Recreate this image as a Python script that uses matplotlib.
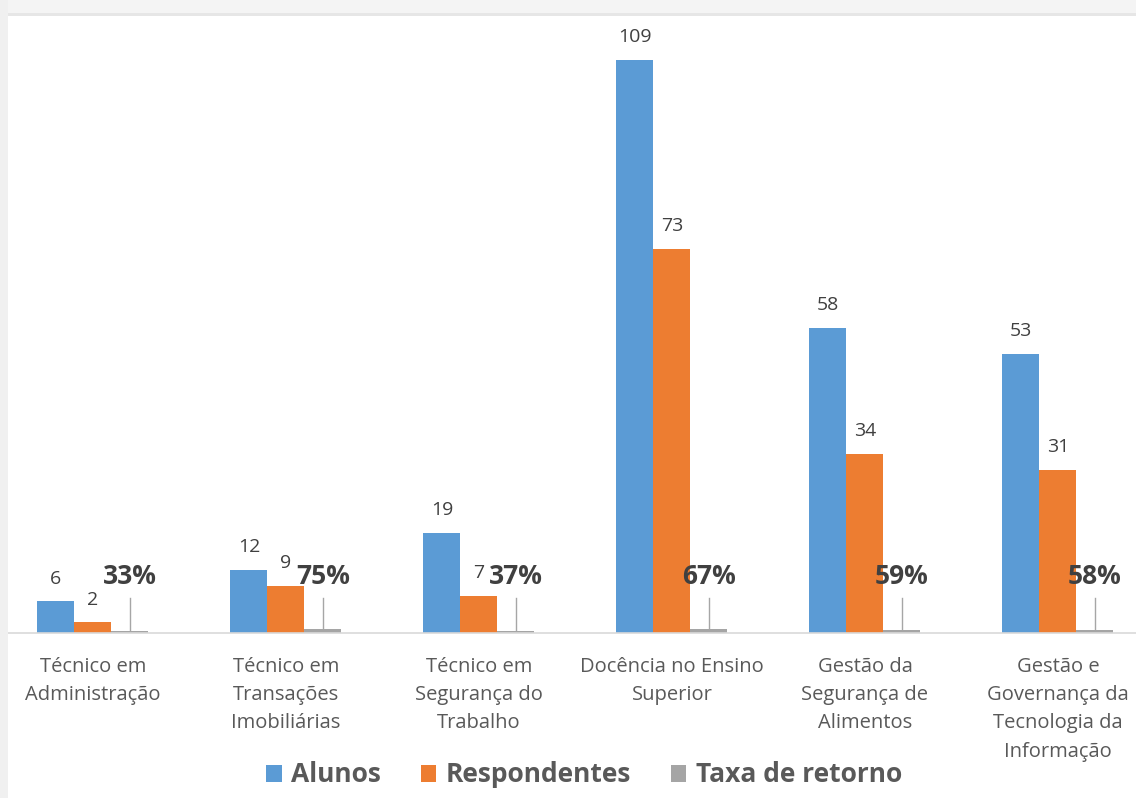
import matplotlib
matplotlib.use("Agg")
import matplotlib.pyplot as plt
from matplotlib.patches import Rectangle
import numpy as np

plt.rcParams['font.family'] = ['Open Sans', 'DejaVu Sans']

categories = [
    "Técnico em\nAdministração",
    "Técnico em\nTransações\nImobiliárias",
    "Técnico em\nSegurança do\nTrabalho",
    "Docência no Ensino\nSuperior",
    "Gestão da\nSegurança de\nAlimentos",
    "Gestão e\nGovernança da\nTecnologia da\nInformação",
]
alunos = [6, 12, 19, 109, 58, 53]
respondentes = [2, 9, 7, 73, 34, 31]
taxa_retorno = [0.33, 0.75, 0.37, 0.67, 0.59, 0.58]

series_names = ["Alunos", "Respondentes", "Taxa de retorno"]
colors = ["#5B9BD5", "#ED7D31", "#A5A5A5"]
label_color = "#404040"
axis_text_color = "#595959"

W, H = 1136, 798
fig = plt.figure(figsize=(W / 100, H / 100), dpi=100)
fig.patch.set_facecolor("white")

# frame strips along the top and left edge
fig.patches.append(Rectangle((0, 1 - 14 / H), 1, 14 / H, transform=fig.transFigure,
                             facecolor="#f4f4f4", edgecolor="none", zorder=0))
fig.patches.append(Rectangle((0, 1 - 16 / H), 1, 3 / H, transform=fig.transFigure,
                             facecolor="#e6e6e6", edgecolor="none", zorder=0))

# axes geometry in pixels
base_px = 633
px_per_unit = (633 - 60) / 109
ymax = 120
left_px, right_px = -3.5, 1154.5
ax = fig.add_axes([left_px / W, (H - base_px) / H,
                   (right_px - left_px) / W, ymax * px_per_unit / H])
ax.set_facecolor("none")
ax.set_xlim(-0.5, len(categories) - 0.5)
ax.set_ylim(0, ymax)

x = np.arange(len(categories))
bw = 37 / 193
offsets = [-bw, 0, bw]
data = [alunos, respondentes, taxa_retorno]

for vals, off, col, name in zip(data, offsets, colors, series_names):
    ax.bar(x + off, vals, width=bw, color=col, label=name, zorder=2)

# value labels
for vals, off in zip(data[:2], offsets[:2]):
    for xi, v in zip(x, vals):
        ax.annotate(f"{v}", (xi + off, v), xytext=(0, 10), textcoords="offset points",
                    ha="center", va="bottom", fontsize=14, color=label_color)

pct_y = (633 - 577) / px_per_unit
leader_top = (633 - 598) / px_per_unit
for xi, v in zip(x, taxa_retorno):
    ax.plot([xi + bw, xi + bw], [v, leader_top], color="#a6a6a6", lw=1, zorder=1)
    ax.text(xi + bw, pct_y, f"{round(v * 100)}%", ha="center", va="center",
            fontsize=19, fontweight="bold", color=label_color)

for s in ["top", "right", "left"]:
    ax.spines[s].set_visible(False)
ax.spines["bottom"].set_color("#d9d9d9")
ax.spines["bottom"].set_linewidth(1.2)
ax.set_yticks([])
ax.set_xticks(x)
ax.set_xticklabels(categories, fontsize=14.5, color=axis_text_color, linespacing=1.56)
ax.tick_params(axis="x", length=0, pad=17)

handles = [Rectangle((0, 0), 1, 1, facecolor=c) for c in colors]
fig.legend(handles, series_names, loc="center", bbox_to_anchor=(584 / W, 1 - 775 / H),
           ncol=3, frameon=False, handlelength=0.6, handleheight=0.6,
           handletextpad=0.35, columnspacing=1.5,
           prop={"weight": "bold", "size": 19})
for t in fig.legends[0].get_texts():
    t.set_color(axis_text_color)

# left strip above the baseline
fig.patches.append(Rectangle((0, 0), 8 / W, 1, transform=fig.transFigure,
                             facecolor="#f0f0f0", edgecolor="none", zorder=10))

fig.savefig("out.png", dpi=100, facecolor=fig.get_facecolor())
